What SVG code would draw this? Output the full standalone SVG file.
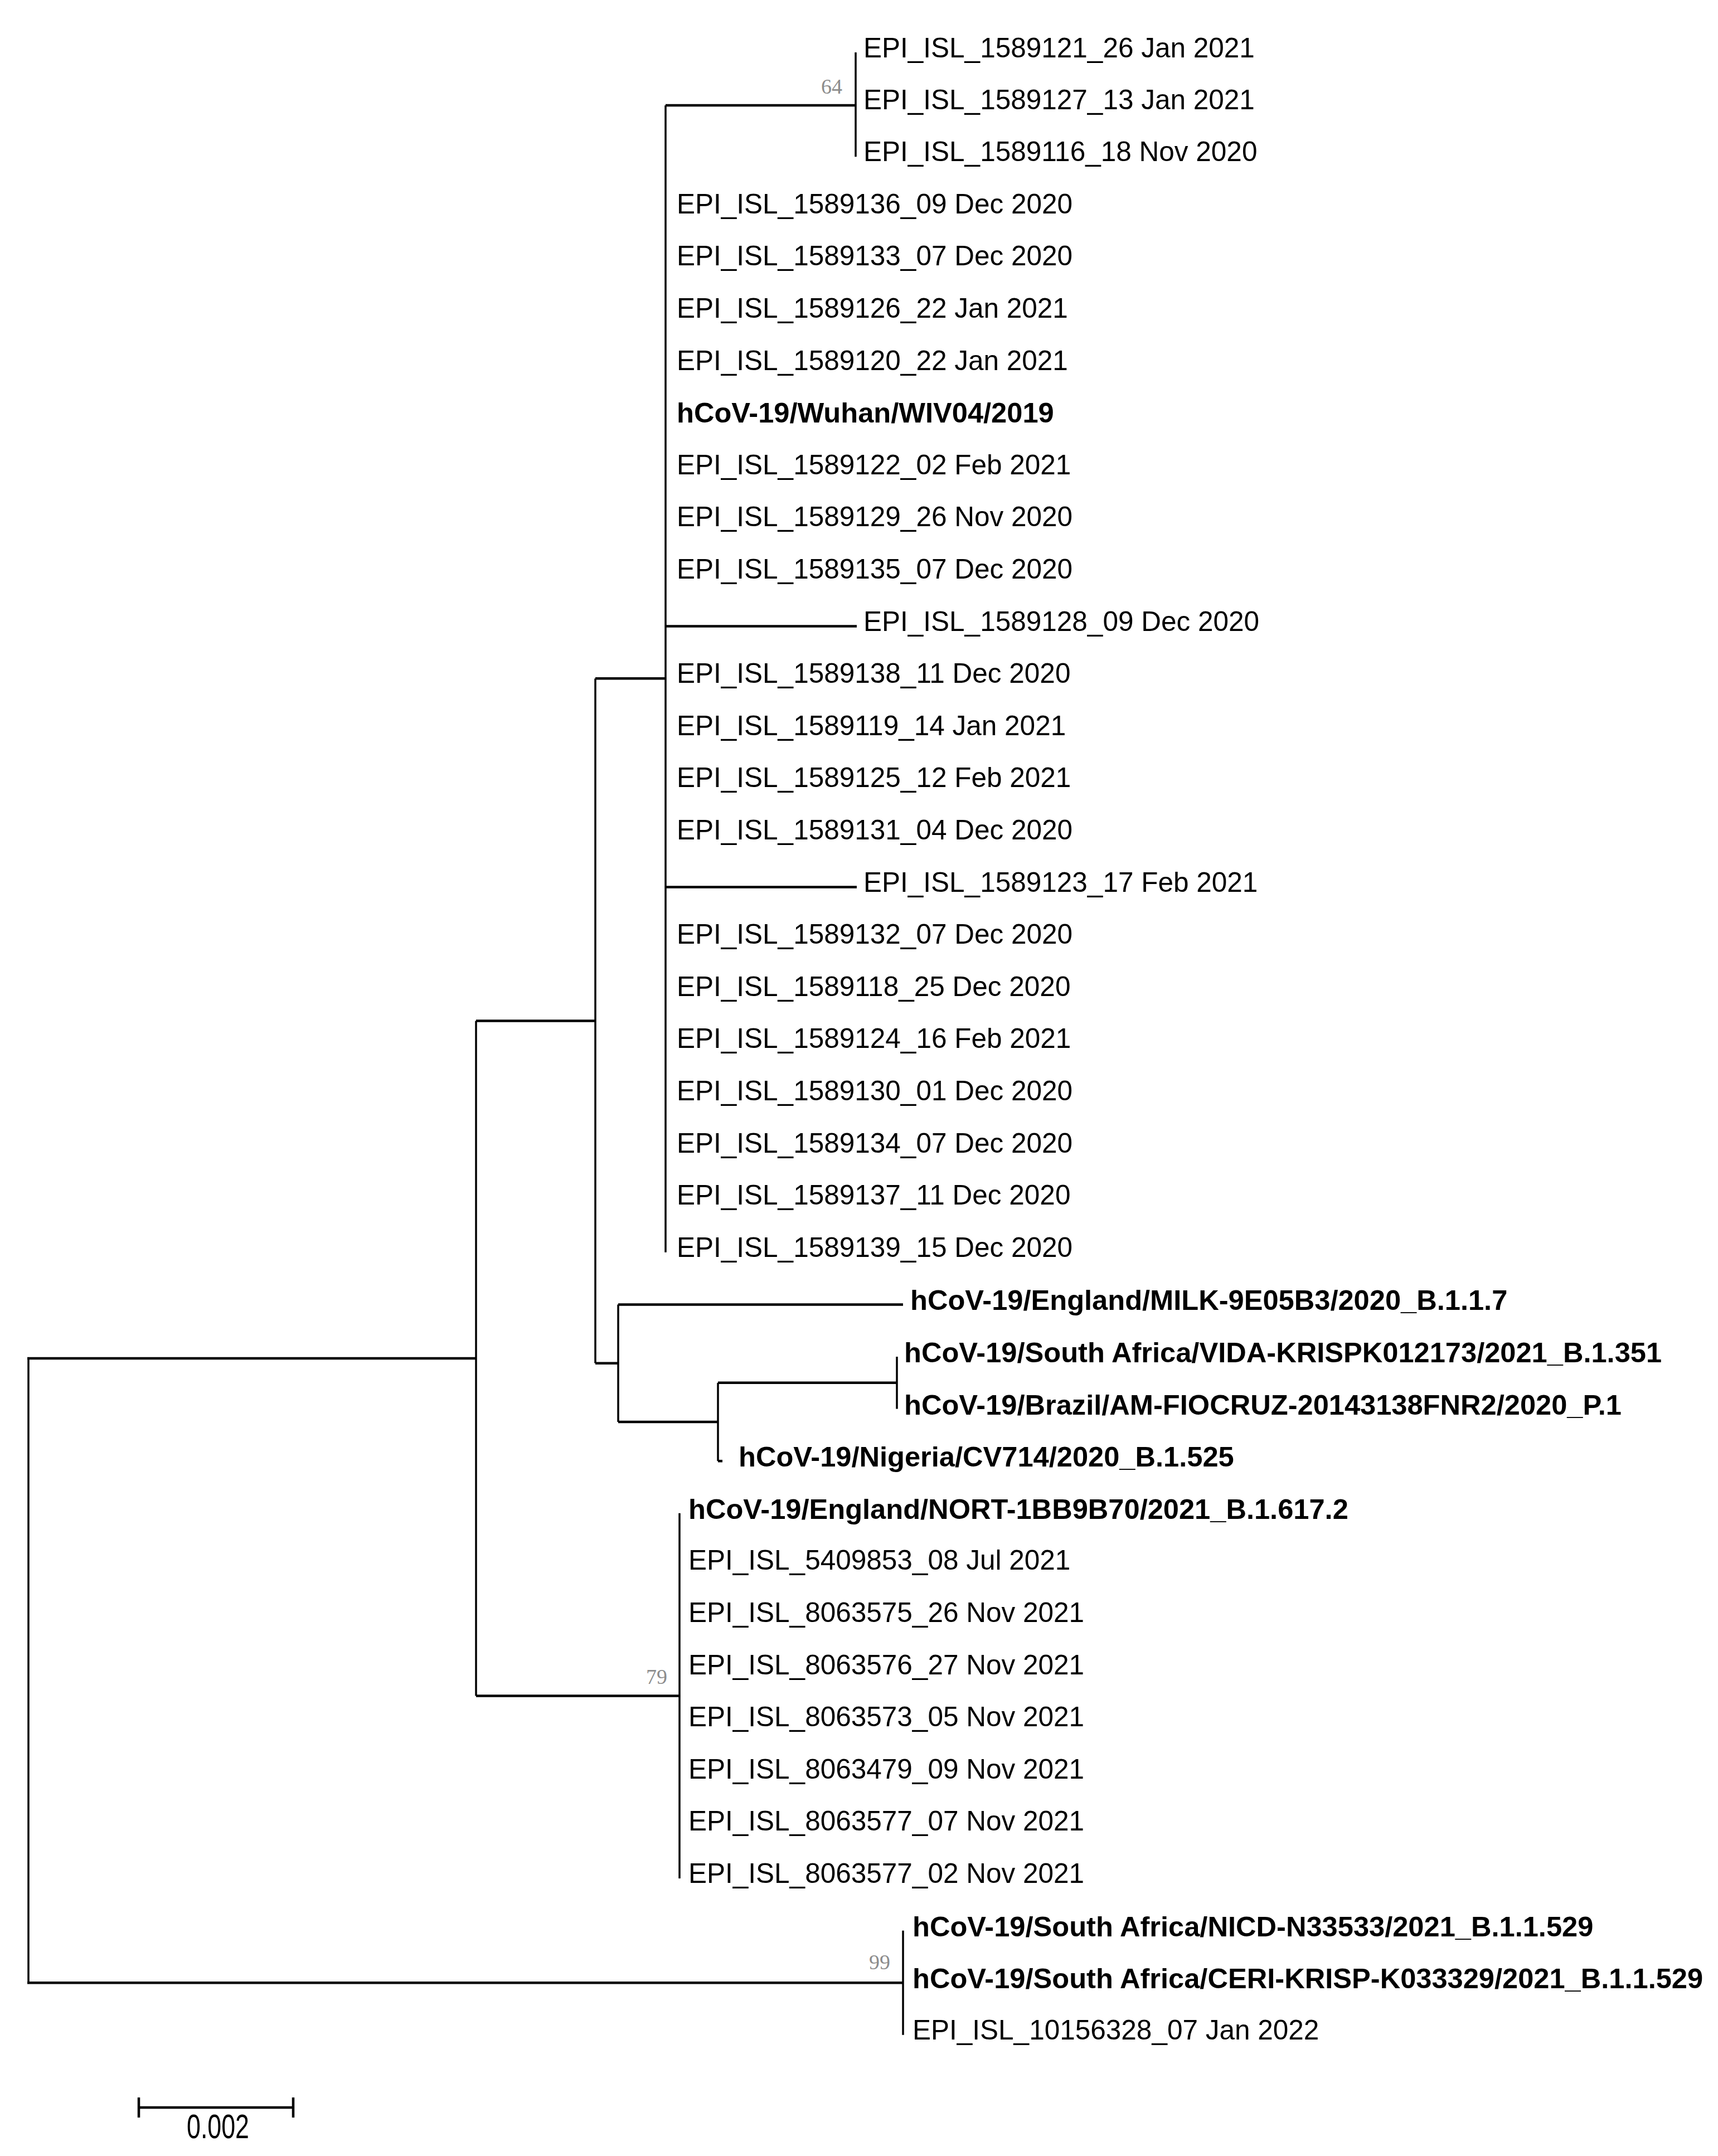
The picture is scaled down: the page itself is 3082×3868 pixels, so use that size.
<svg xmlns="http://www.w3.org/2000/svg" width="3082" height="3868" viewBox="0 0 3082 3868">
<style>
.h{stroke:#000;stroke-width:4.5;fill:none}
.v{stroke:#000;stroke-width:3.5;fill:none}
.t{font-family:"Liberation Sans",Arial,sans-serif;font-size:49.5px;fill:#000}
.b{font-family:"Liberation Sans",Arial,sans-serif;font-size:50.6px;font-weight:bold;fill:#000}
.bs{font-family:"Liberation Serif","Times New Roman",serif;font-size:38px;fill:#8c8c8c;text-anchor:end}
</style>
<rect width="3082" height="3868" fill="#fff"/>
<g id="branches">
<line class="v" x1="51" y1="2436.9" x2="51" y2="3557.2"/>
<line class="h" x1="49" y1="2436.9" x2="854" y2="2436.9"/>
<line class="h" x1="49" y1="3557.2" x2="1620" y2="3557.2"/>
<line class="v" x1="854" y1="1831.5" x2="854" y2="3042.4"/>
<line class="h" x1="854" y1="1831.5" x2="1068" y2="1831.5"/>
<line class="h" x1="854" y1="3042.4" x2="1219" y2="3042.4"/>
<line class="v" x1="1068" y1="1217.2" x2="1068" y2="2445.7"/>
<line class="h" x1="1068" y1="1217.2" x2="1194" y2="1217.2"/>
<line class="h" x1="1068" y1="2445.7" x2="1109" y2="2445.7"/>
<line class="v" x1="1194" y1="189" x2="1194" y2="2246.8"/>
<line class="h" x1="1194" y1="189" x2="1535" y2="189"/>
<line class="h" x1="1194" y1="1123.6" x2="1537" y2="1123.6"/>
<line class="h" x1="1194" y1="1591.6" x2="1537" y2="1591.6"/>
<line class="v" x1="1535" y1="94" x2="1535" y2="281.2"/>
<line class="v" x1="1109" y1="2340.4" x2="1109" y2="2551"/>
<line class="h" x1="1109" y1="2340.4" x2="1620" y2="2340.4"/>
<line class="h" x1="1109" y1="2551" x2="1288" y2="2551"/>
<line class="v" x1="1288" y1="2480.8" x2="1288" y2="2621.2"/>
<line class="h" x1="1288" y1="2480.8" x2="1609" y2="2480.8"/>
<line class="h" x1="1288" y1="2621.2" x2="1296" y2="2621.2"/>
<line class="v" x1="1609" y1="2434" x2="1609" y2="2527.6"/>
<line class="v" x1="1219" y1="2714.8" x2="1219" y2="3370"/>
<line class="v" x1="1620" y1="3463.6" x2="1620" y2="3650.8"/>
</g>
<g id="bootstrap">
<g id="bs-64"><text class="bs" x="1511" y="168">64</text></g>
<g id="bs-79"><text class="bs" x="1197" y="3021">79</text></g>
<g id="bs-99"><text class="bs" x="1597" y="3533">99</text></g>
</g>
<g id="leaves">
<g id="n0"><text class="t" x="1549" y="103">EPI_ISL_1589121_26 Jan 2021</text></g>
<g id="n1"><text class="t" x="1549" y="195.6">EPI_ISL_1589127_13 Jan 2021</text></g>
<g id="n2"><text class="t" x="1549" y="289.2">EPI_ISL_1589116_18 Nov 2020</text></g>
<g id="n3"><text class="t" x="1214" y="382.8">EPI_ISL_1589136_09 Dec 2020</text></g>
<g id="n4"><text class="t" x="1214" y="476.4">EPI_ISL_1589133_07 Dec 2020</text></g>
<g id="n5"><text class="t" x="1214" y="570">EPI_ISL_1589126_22 Jan 2021</text></g>
<g id="n6"><text class="t" x="1214" y="663.6">EPI_ISL_1589120_22 Jan 2021</text></g>
<g id="n7"><text class="b" x="1214" y="758.2">hCoV-19/Wuhan/WIV04/2019</text></g>
<g id="n8"><text class="t" x="1214" y="850.8">EPI_ISL_1589122_02 Feb 2021</text></g>
<g id="n9"><text class="t" x="1214" y="944.4">EPI_ISL_1589129_26 Nov 2020</text></g>
<g id="n10"><text class="t" x="1214" y="1038">EPI_ISL_1589135_07 Dec 2020</text></g>
<g id="n11"><text class="t" x="1549" y="1131.6">EPI_ISL_1589128_09 Dec 2020</text></g>
<g id="n12"><text class="t" x="1214" y="1225.2">EPI_ISL_1589138_11 Dec 2020</text></g>
<g id="n13"><text class="t" x="1214" y="1318.8">EPI_ISL_1589119_14 Jan 2021</text></g>
<g id="n14"><text class="t" x="1214" y="1412.4">EPI_ISL_1589125_12 Feb 2021</text></g>
<g id="n15"><text class="t" x="1214" y="1506">EPI_ISL_1589131_04 Dec 2020</text></g>
<g id="n16"><text class="t" x="1549" y="1599.6">EPI_ISL_1589123_17 Feb 2021</text></g>
<g id="n17"><text class="t" x="1214" y="1693.2">EPI_ISL_1589132_07 Dec 2020</text></g>
<g id="n18"><text class="t" x="1214" y="1786.8">EPI_ISL_1589118_25 Dec 2020</text></g>
<g id="n19"><text class="t" x="1214" y="1880.4">EPI_ISL_1589124_16 Feb 2021</text></g>
<g id="n20"><text class="t" x="1214" y="1974">EPI_ISL_1589130_01 Dec 2020</text></g>
<g id="n21"><text class="t" x="1214" y="2067.6">EPI_ISL_1589134_07 Dec 2020</text></g>
<g id="n22"><text class="t" x="1214" y="2161.2">EPI_ISL_1589137_11 Dec 2020</text></g>
<g id="n23"><text class="t" x="1214" y="2254.8">EPI_ISL_1589139_15 Dec 2020</text></g>
<g id="n24"><text class="b" x="1633" y="2350.4">hCoV-19/England/MILK-9E05B3/2020_B.1.1.7</text></g>
<g id="n25"><text class="b" x="1622" y="2444">hCoV-19/South Africa/VIDA-KRISPK012173/2021_B.1.351</text></g>
<g id="n26"><text class="b" x="1622" y="2537.6">hCoV-19/Brazil/AM-FIOCRUZ-20143138FNR2/2020_P.1</text></g>
<g id="n27"><text class="b" x="1325" y="2631.2">hCoV-19/Nigeria/CV714/2020_B.1.525</text></g>
<g id="n28"><text class="b" x="1235" y="2724.8">hCoV-19/England/NORT-1BB9B70/2021_B.1.617.2</text></g>
<g id="n29"><text class="t" x="1235" y="2816.4">EPI_ISL_5409853_08 Jul 2021</text></g>
<g id="n30"><text class="t" x="1235" y="2910">EPI_ISL_8063575_26 Nov 2021</text></g>
<g id="n31"><text class="t" x="1235" y="3003.6">EPI_ISL_8063576_27 Nov 2021</text></g>
<g id="n32"><text class="t" x="1235" y="3097.2">EPI_ISL_8063573_05 Nov 2021</text></g>
<g id="n33"><text class="t" x="1235" y="3190.8">EPI_ISL_8063479_09 Nov 2021</text></g>
<g id="n34"><text class="t" x="1235" y="3284.4">EPI_ISL_8063577_07 Nov 2021</text></g>
<g id="n35"><text class="t" x="1235" y="3378">EPI_ISL_8063577_02 Nov 2021</text></g>
<g id="n36"><text class="b" x="1637" y="3473.6">hCoV-19/South Africa/NICD-N33533/2021_B.1.1.529</text></g>
<g id="n37"><text class="b" x="1637" y="3567.2">hCoV-19/South Africa/CERI-KRISP-K033329/2021_B.1.1.529</text></g>
<g id="n38"><text class="t" x="1637" y="3658.8">EPI_ISL_10156328_07 Jan 2022</text></g>
</g>
<g id="scale-bar">
<line class="h" x1="249" y1="3781" x2="526" y2="3781"/>
<line class="h" x1="249" y1="3763" x2="249" y2="3799"/>
<line class="h" x1="526" y1="3763" x2="526" y2="3799"/>
<text x="335" y="3836" font-family="'Liberation Sans',Arial,sans-serif" font-size="62" textLength="112" lengthAdjust="spacingAndGlyphs">0.002</text>
</g>
</svg>
